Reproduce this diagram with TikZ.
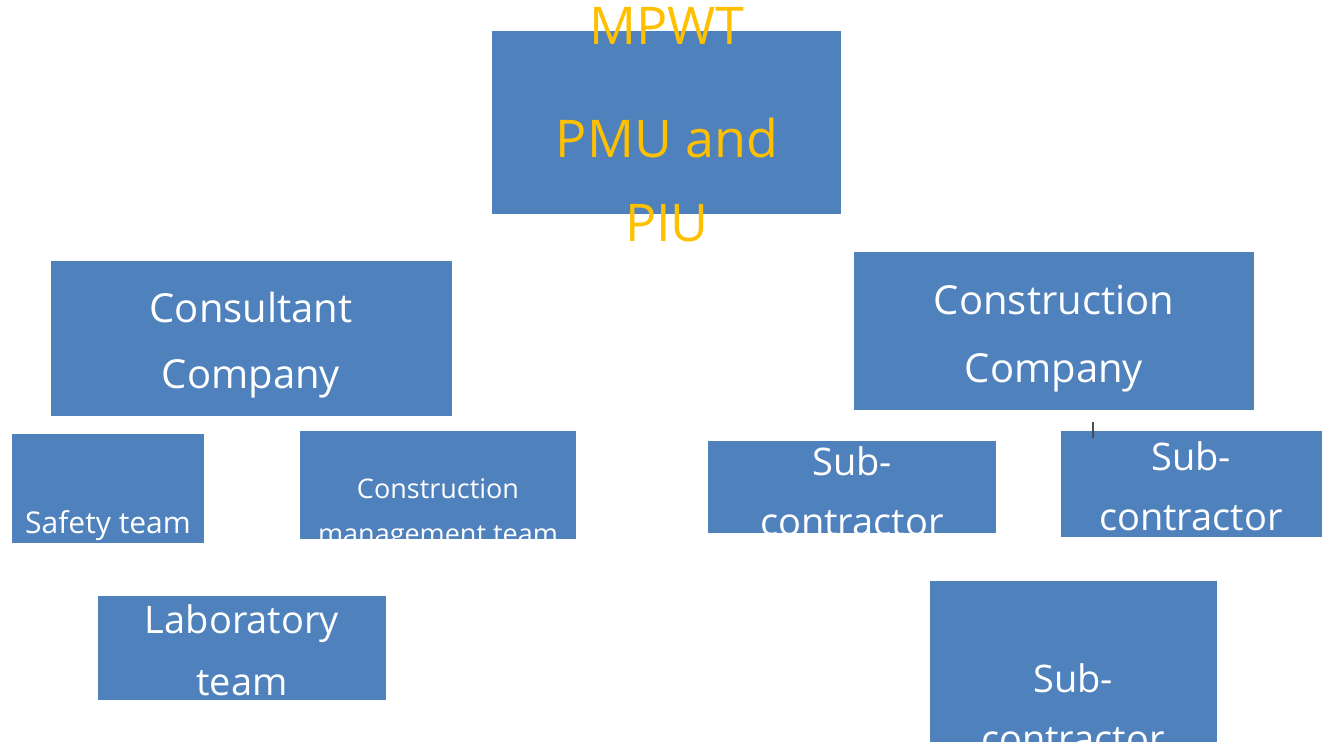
\documentclass[tikz,border=0pt]{standalone}
\usepackage{fontspec}
\setmainfont{Open Sans}
\definecolor{boxblue}{HTML}{4F81BD}
\definecolor{headyellow}{HTML}{FFC000}

\begin{document}
\begin{tikzpicture}[x=1pt, y=-1pt,
        unit/.style={fill=boxblue, inner sep=0pt, anchor=north west},
        lbl/.style={text=white, anchor=base, inner sep=0pt},
        headtxt/.style={lbl, text=headyellow, font=\fontsize{52}{60}\selectfont},
        bigtxt/.style={lbl, font=\fontsize{40}{48}\selectfont},
        midtxt/.style={lbl, font=\fontsize{38}{46}\selectfont},
        smalltxt/.style={lbl, font=\fontsize{30}{36}\selectfont},
        tinytxt/.style={lbl, font=\fontsize{27}{32}\selectfont}]
        \useasboundingbox[fill=white] (0,0) rectangle (1326,746);

        % head office
        \node[unit, minimum width=349, minimum height=183] (mpwt) at (492,31) {};
        \node[headtxt] (mpwtA) at (667,45) {MPWT};
        \node[headtxt] (mpwtB) at (667,158) {PMU and};
        \node[headtxt] (mpwtC) at (667,242) {PIU};

        % consultant side
        \node[unit, minimum width=401, minimum height=155] (cons) at (51,261) {};
        \node[bigtxt] (consA) at (251,322) {Consultant};
        \node[bigtxt] (consB) at (251,388) {Company};

        \node[unit, minimum width=192, minimum height=109] (safe) at (12,434) {};
        \node[smalltxt] (safeA) at (108,533) {Safety team};

        \node[unit, minimum width=276, minimum height=108] (cmt) at (300,431) {};
        \node[tinytxt] (cmtA) at (438,498) {Construction};
        \node[tinytxt] (cmtB) at (438,543) {management team};

        \node[unit, minimum width=288, minimum height=104] (lab) at (98,596) {};
        \node[midtxt] (labA) at (242,633) {Laboratory};
        \node[midtxt] (labB) at (242,695) {team};

        % contractor side
        \node[unit, minimum width=400, minimum height=158] (ctor) at (854,252) {};
        \node[bigtxt] (ctorA) at (1054,314) {Construction};
        \node[bigtxt] (ctorB) at (1054,382) {Company};

        \node[unit, minimum width=288, minimum height=92] (subA) at (708,441) {};
        \node[midtxt] (subAa) at (852,475) {Sub-};
        \node[midtxt] (subAb) at (852,535) {contractor};

        \node[unit, minimum width=261, minimum height=106] (subB) at (1061,431) {};
        \node[midtxt] (subBa) at (1191,470) {Sub-};
        \node[midtxt] (subBb) at (1191,530) {contractor};

        \node[unit, minimum width=287, minimum height=161] (subC) at (930,581) {};
        \node[midtxt] (subCa) at (1073,692) {Sub-};
        \node[midtxt] (subCb) at (1073,752) {contractor};

        % text cursor
        \draw[line width=1.5pt, black!70] (1093,422) -- (1093,438);
\end{tikzpicture}
\end{document}
